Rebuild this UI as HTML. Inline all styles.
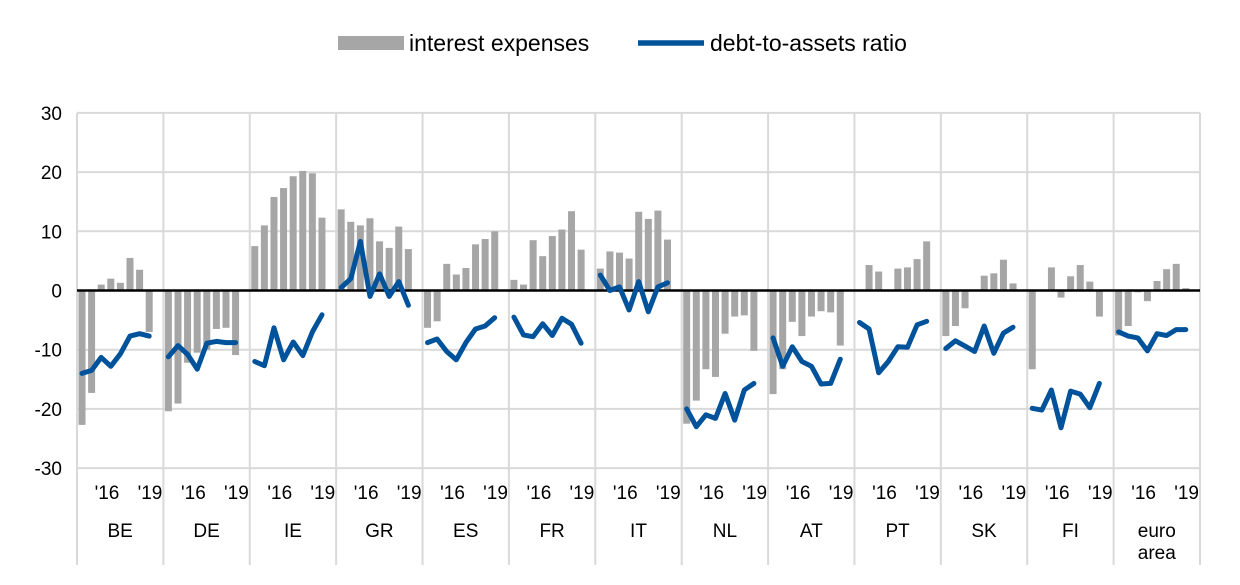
<!DOCTYPE html>
<html><head><meta charset="utf-8"><style>
body{margin:0;background:#fff;width:1240px;height:585px;overflow:hidden}
svg{display:block;font-family:"Liberation Sans",Arial,sans-serif}
</style></head><body>
<svg id="c" width="1240" height="585" xmlns="http://www.w3.org/2000/svg"></svg>
<script>
const svg=document.getElementById('c');
const L=77,R=1200,Y0=290.5,S=5.92;
const y=v=>Y0-v*S;
const names=['BE','DE','IE','GR','ES','FR','IT','NL','AT','PT','SK','FI','euro area'];
const bars=[
[-22.7,-17.3,1,2,1.3,5.5,3.5,-7],
[-20.4,-19.1,-12.2,-10.5,-10,-6.5,-6.3,-10.9],
[7.5,11,15.8,17.3,19.3,20.2,19.8,12.3],
[13.7,11.6,11,12.2,8.3,7.2,10.8,7],
[-6.3,-5.2,4.5,2.7,3.8,7.8,8.7,10],
[1.8,1,8.5,5.8,9.2,10.3,13.4,6.9],
[3.7,6.6,6.4,5.4,13.3,12.1,13.5,8.6],
[-22.5,-18.6,-13.3,-14.6,-7.3,-4.4,-4.2,-10.2],
[-17.5,-13.3,-5.3,-7.7,-4.4,-3.5,-3.7,-9.3],
[0,4.3,3.2,0,3.7,3.9,5.3,8.3],
[-7.7,-6,-3,0,2.5,2.9,5.2,1.2],
[-13.3,0,3.9,-1.2,2.4,4.3,1.5,-4.4],
[-7.6,-6,-0.3,-1.8,1.6,3.6,4.5,0.4]];
const lines=[
[-14,-13.5,-11.3,-12.8,-10.7,-7.7,-7.3,-7.7],
[-11.2,-9.3,-10.8,-13.3,-8.9,-8.6,-8.8,-8.8],
[-12,-12.7,-6.3,-11.7,-8.7,-11,-7,-4.1],
[0.5,2,8.3,-1,2.8,-1,1.5,-2.5],
[-8.8,-8.2,-10.3,-11.7,-8.8,-6.5,-6,-4.6],
[-4.5,-7.5,-7.8,-5.6,-7.6,-4.7,-5.7,-8.9],
[2.6,0,0.6,-3.3,1.5,-3.6,0.6,1.3],
[-20,-23,-21,-21.6,-17.4,-21.9,-16.8,-15.7],
[-8,-12.8,-9.5,-12,-12.8,-15.8,-15.7,-11.6],
[-5.4,-6.5,-13.9,-12,-9.5,-9.6,-5.8,-5.2],
[-9.8,-8.5,-9.4,-10.3,-6,-10.6,-7.2,-6.2],
[-19.9,-20.2,-16.8,-23.2,-17,-17.5,-19.8,-15.7],
[-7,-7.7,-8,-10.2,-7.3,-7.6,-6.6,-6.6]];
let h='';
const gw=(R-L)/13;
for(let v=-30;v<=30;v+=10){ if(v) h+=`<line x1="${L}" x2="${R}" y1="${y(v)}" y2="${y(v)}" stroke="#d9d9d9" stroke-width="2"/>`;
 h+=`<text x="62" y="${y(v)+7}" font-size="19" text-anchor="end" fill="#000">${v}</text>`;}
for(let i=0;i<=13;i++){const x=L+i*gw;h+=`<line x1="${x}" x2="${x}" y1="${y(30)}" y2="565" stroke="#d9d9d9" stroke-width="2"/>`;}
for(let g=0;g<13;g++){bars[g].forEach((v,k)=>{if(!v)return;const cx=L+gw*g+5+9.6*k;const a=y(Math.max(v,0)),b=y(Math.min(v,0));
 h+=`<rect x="${cx-3.5}" y="${a}" width="7" height="${b-a}" fill="#a6a6a6"/>`;});}
h+=`<line x1="${L}" x2="${R}" y1="${Y0}" y2="${Y0}" stroke="#000" stroke-width="2.5"/>`;
for(let g=0;g<13;g++){const p=lines[g].map((v,k)=>`${(L+gw*g+5+9.6*k).toFixed(1)},${y(v).toFixed(1)}`).join(' ');
 h+=`<polyline points="${p}" fill="none" stroke="#00529b" stroke-width="5" stroke-linejoin="round" stroke-linecap="round"/>`;
 const x0=L+gw*g;
 h+=`<text x="${x0+30}" y="499" font-size="19" text-anchor="middle">'16</text><text x="${x0+73}" y="499" font-size="19" text-anchor="middle">'19</text>`;
 if(g<12)h+=`<text x="${x0+gw/2}" y="537" font-size="19" text-anchor="middle">${names[g]}</text>`;
 else h+=`<text x="${x0+gw/2}" y="537" font-size="19" text-anchor="middle">euro</text><text x="${x0+gw/2}" y="559" font-size="19" text-anchor="middle">area</text>`;}
h+=`<rect x="338" y="36" width="66" height="14" fill="#a6a6a6"/><text x="409" y="51" font-size="23">interest expenses</text>`;
h+=`<line x1="638" x2="704" y1="43" y2="43" stroke="#00529b" stroke-width="5.5"/><text x="710" y="51" font-size="23">debt-to-assets ratio</text>`;
svg.innerHTML=h;
</script>
</body></html>
